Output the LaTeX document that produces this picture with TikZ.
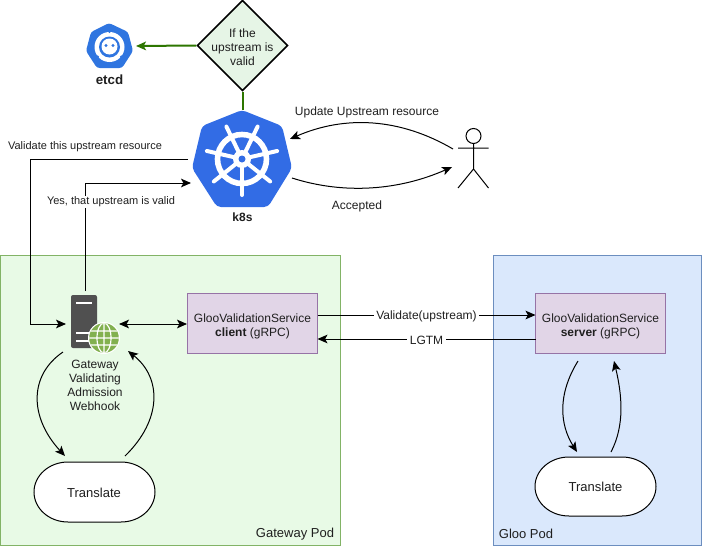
\documentclass[tikz,border=0pt]{standalone}
\usepackage{fontspec}
\setmainfont{Liberation Sans}
\usetikzlibrary{arrows.meta,shapes.geometric}
\definecolor{podgreen}{HTML}{E8FAE6}
\definecolor{podgreenline}{HTML}{82B366}
\definecolor{podblue}{HTML}{DAE8FC}
\definecolor{podblueline}{HTML}{6C8EBF}
\definecolor{svcfill}{HTML}{E1D5E7}
\definecolor{svcline}{HTML}{9673A6}
\definecolor{decfill}{HTML}{E6F5E6}
\definecolor{gline}{HTML}{2D7600}
\definecolor{kblue}{HTML}{326CE5}
\definecolor{eblue}{HTML}{2F75E0}
\definecolor{srv}{HTML}{505050}
\definecolor{globe}{HTML}{82B04F}
\tikzset{
  x=0.75pt,y=-0.75pt,
  every node/.style={font=\fontsize{9}{10.5}\selectfont,text=black!88,inner sep=0pt},
  pod/.style={draw,rectangle},
  svc/.style={draw=svcline,fill=svcfill,minimum width=97.5pt,minimum height=45pt,align=center,text height=20.8pt},
  largetext/.style={font=\fontsize{9.75}{11}\selectfont},
  smalltext/.style={font=\fontsize{8.25}{10}\selectfont},
  lab/.style={fill=white,inner xsep=2pt,inner ysep=1pt},
  arr/.style={-{Stealth[length=7.5pt,width=6.5pt,inset=1.8pt]}},
  both/.style={{Stealth[length=7.5pt,width=6.5pt,inset=1.8pt]}-{Stealth[length=7.5pt,width=6.5pt,inset=1.8pt]}},
  hole/.style={minimum width=#1,minimum height=#1},
  blobshape/.style={draw=black,fill=white},
}
\begin{document}
\begin{tikzpicture}[line width=0.75pt]
\useasboundingbox (0,0) rectangle (702,546);
% pods
\node[pod,draw=podgreenline,fill=podgreen,minimum width=255pt,minimum height=217.5pt] (gwpod) at (170.5,400) {};
\node[pod,draw=podblueline,fill=podblue,minimum width=156pt,minimum height=217.5pt] (gloopod) at (597.5,400) {};
\node[largetext] (gwlabel) at (295,534) {Gateway Pod};
\node[largetext] (gloolabel) at (526,534) {Gloo Pod};
% services
\node[svc] (client) at (252.5,323.5) {GlooValidationService\\\textbf{client} (gRPC)};
\node[svc] (server) at (600.5,323.5) {GlooValidationService\\\textbf{server} (gRPC)};
\draw[blobshape] (68,462) -- (121,462) arc[start angle=-90,end angle=90,x radius=34,y radius=30] -- (68,522) arc[start angle=90,end angle=270,x radius=34,y radius=30] -- cycle;
\draw[blobshape] (569,457) -- (622,457) arc[start angle=-90,end angle=90,x radius=34,y radius=29.5] -- (569,516) arc[start angle=90,end angle=270,x radius=34,y radius=29.5] -- cycle;
\node[largetext] (tleft) at (94,492.5) {Translate};
\node[largetext] (tright) at (595.5,487) {Translate};
% decision
\node[diamond,draw=black,line width=1.1pt,fill=decfill,minimum width=68pt,minimum height=68pt,aspect=1,align=center] (dec) at (242.5,45.5) {};
\node[align=center] (dectext) at (242.5,47) {If the\\upstream is\\valid};
% etcd icon
\fill[eblue,rounded corners=2pt] (109,23)--(128,32)--(133,51)--(122,68)--(97,68)--(86,51)--(91,32)--cycle;
\fill[white] (109.5,47) circle (15);
\foreach \a in {40,140,270}{\fill[eblue] (109.5,47)++(\a:15.5) circle (1.6);}
\fill[eblue] (109.5,47) circle (10.5);
\fill[white] (109.5,46.5) circle (8);
\fill[eblue] (106,45.5) circle (1.7) (113,45.5) circle (1.7);
\node[hole=35pt] (etcd) at (109,46) {};
\node[largetext,font=\bfseries] (etcdlabel) at (109.5,80) {etcd};
% k8s icon
\fill[kblue,rounded corners=3pt] (242,110)--(282,126)--(292,168)--(268,207)--(217,207)--(192,168)--(202,126)--cycle;
\draw[white,line width=4.2pt] (242,159) circle (24.5);
\foreach \a in {90,141.43,192.86,244.29,295.71,347.14,38.57}{
  \draw[white,line width=3pt,line cap=round] (242,159) -- ++(\a:36);
}
\fill[white] (242,159) circle (9);
\fill[kblue] (242,159) circle (3.5);
\node[hole=70pt] (k8s) at (242,158) {};
\node[font=\fontsize{9}{10.5}\selectfont\bfseries] (k8slabel) at (242.5,217) {k8s};
% webhook icon
\fill[srv,rounded corners=1.5pt] (71,295) rectangle (97,348);
\draw[white,line width=1.5pt] (76,303)--(92,303) (76,333)--(90,333) (76,341)--(90,341);
\fill[white] (104,338) circle (16);
\begin{scope}
\clip (104,338) circle (14.8);
\fill[globe] (88,322) rectangle (120,354);
\draw[white,line width=0.9pt] (104,338) ellipse (7 and 15) (104,322)--(104,354) (88,338)--(120,338) (88,331)--(120,331) (88,345)--(120,345);
\end{scope}
\node[hole=50pt] (hook) at (93,324) {};
\node[align=center,font=\fontsize{9}{10.5}\selectfont] (hooktext) at (95,385) {Gateway\\Validating\\Admission\\Webhook};
% person
\node[circle,draw=black,minimum size=11.25pt] (head) at (473.5,136) {};
\coordinate (hip) at (473.5,169);
\coordinate (arml) at (458,148);
\coordinate (armr) at (488.5,148);
\coordinate (footl) at (458,188);
\coordinate (footr) at (488.5,188);
\draw (head.south) -- (hip) (arml) -- (armr) (footl) -- (hip) -- (footr);
% ports
\coordinate (upS) at (453,149);
\coordinate (upT) at (290,139);
\coordinate (acS) at (292,178);
\coordinate (acT) at (452,167);
\coordinate (vS) at (188,159);
\coordinate (vC1) at (30,159);
\coordinate (vC2) at (30,324);
\coordinate (vT) at (66,324);
\coordinate (yS) at (85,291);
\coordinate (yC) at (85,183);
\coordinate (yT) at (191,183);
\coordinate (hE) at (119,324);
\coordinate (cV) at (317.5,315);
\coordinate (sV) at (535.5,315);
\coordinate (cL) at (317.5,339);
\coordinate (sL) at (535.5,339);
\coordinate (l1) at (63,352);
\coordinate (l2) at (65,456);
\coordinate (l3) at (125,456);
\coordinate (l4) at (128,351);
\coordinate (r1) at (578,361);
\coordinate (r2) at (577,452);
\coordinate (r3) at (611,452);
\coordinate (r4) at (614,361);
\coordinate (etcdtip) at (136,46);
\coordinate (k8stop) at (242.5,110);
% connectors
\draw[gline,line width=1.5pt,arr] (dec.west) -- (etcdtip);
\draw[gline,line width=1.5pt] (dec.south) -- (k8stop);
\draw[arr] (upS) .. controls (400,118) and (345,115) .. (upT);
\draw[arr] (acS) .. controls (345,195) and (400,190) .. (acT);
\draw[arr] (vS) -- (vC1) -- (vC2) -- (vT);
\draw[arr] (yS) -- (yC) -- (yT);
\draw[both] (hE) -- (client.west |- hE);
\draw[arr] (cV) -- (sV);
\draw[arr] (sL) -- (cL);
\draw[arr] (l1) .. controls (29,375) and (29,417) .. (l2);
\draw[arr] (l3) .. controls (162,420) and (162,378) .. (l4);
\draw[arr] (r1) .. controls (557,395) and (560,425) .. (r2);
\draw[arr] (r3) .. controls (625,425) and (622,395) .. (r4);
% labels
\node (uplab) at (367,112) {Update Upstream resource};
\node (aclab) at (357,206) {Accepted};
\node[smalltext] (vlab) at (85,147) {Validate this upstream resource};
\node[smalltext,lab] (ylab) at (111,202) {Yes, that upstream is valid};
\node[lab] (vglab) at (426.5,316) {Validate(upstream)};
\node[lab] (lglab) at (426.5,340) {LGTM};
\end{tikzpicture}
\end{document}
